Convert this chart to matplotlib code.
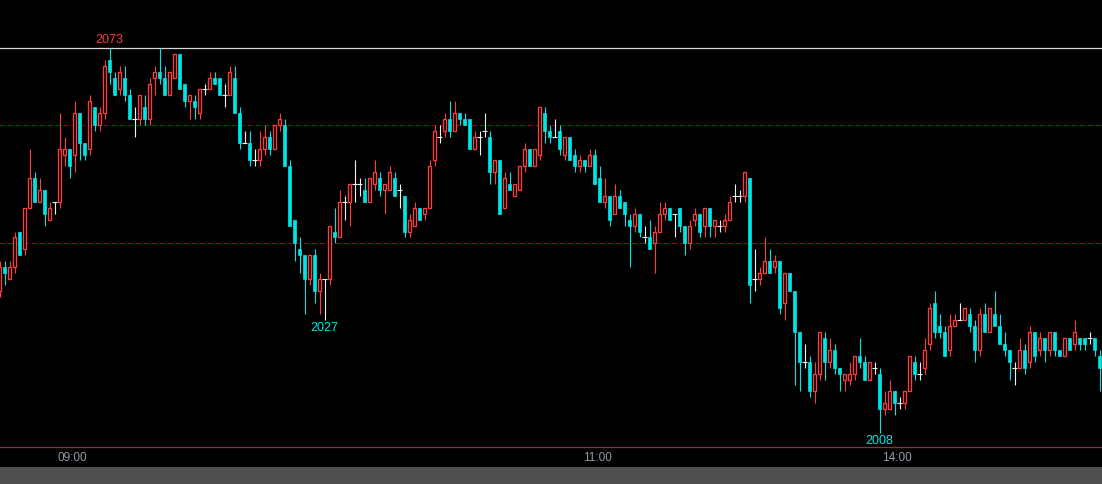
import matplotlib
matplotlib.use("Agg")
import matplotlib.pyplot as plt
from matplotlib.patches import Rectangle

# 1-minute bars
opens = [2032, 2036, 2034, 2036, 2042, 2039, 2046, 2051, 2047, 2049, 2044, 2047, 2047, 2055, 2056, 2055, 2062, 2057, 2056, 2063,
         2060, 2062, 2071, 2068, 2066, 2068, 2065, 2061, 2061, 2063, 2061, 2068, 2069, 2068, 2065, 2068, 2072, 2067, 2064, 2064,
         2062, 2066, 2066, 2068, 2068, 2065, 2065, 2068, 2062, 2057, 2057, 2054, 2054, 2056, 2058, 2056, 2060, 2060, 2053, 2044,
         2039, 2038, 2034, 2038, 2032, 2034, 2034, 2042, 2041, 2047, 2047, 2050, 2050, 2049, 2047, 2050, 2051, 2049, 2049, 2051,
         2049, 2048, 2042, 2043, 2046, 2045, 2046, 2054, 2058, 2059, 2061, 2059, 2062, 2061, 2061, 2056, 2058, 2059, 2058, 2052,
         2054, 2046, 2050, 2048, 2049, 2053, 2056, 2053, 2055, 2062, 2059, 2058, 2059, 2055, 2058, 2055, 2053, 2054, 2053, 2055,
         2051, 2047, 2048, 2045, 2048, 2047, 2044, 2043, 2045, 2041, 2041, 2040, 2042, 2045, 2046, 2045, 2046, 2043, 2040, 2044,
         2045, 2043, 2046, 2043, 2043, 2043, 2044, 2048, 2048, 2048, 2051, 2034, 2034, 2035, 2037, 2036, 2037, 2030, 2035, 2032,
         2025, 2020, 2020, 2015, 2018, 2024, 2020, 2022, 2019, 2017, 2017, 2018, 2021, 2020, 2017, 2019, 2018, 2012, 2012, 2015,
         2013, 2013, 2015, 2020, 2018, 2019, 2023, 2030, 2026, 2025, 2022, 2026, 2027, 2027, 2028, 2026, 2022, 2028, 2025, 2028,
         2026, 2023, 2022, 2019, 2019, 2022, 2020, 2025, 2022, 2024, 2022, 2025, 2022, 2021, 2024, 2023, 2024, 2024, 2024, 2024,
         2021]
highs = [2037, 2037, 2037, 2042, 2042, 2046, 2056, 2052, 2051, 2049, 2047, 2047, 2062, 2058, 2056, 2064, 2062, 2057, 2065, 2063,
         2063, 2071, 2073, 2069, 2070, 2070, 2066, 2063, 2065, 2065, 2068, 2070, 2073, 2070, 2069, 2072, 2072, 2067, 2065, 2065,
         2066, 2067, 2069, 2069, 2068, 2067, 2070, 2070, 2063, 2059, 2059, 2056, 2059, 2060, 2059, 2060, 2062, 2061, 2054, 2044,
         2041, 2038, 2038, 2039, 2035, 2034, 2043, 2046, 2049, 2048, 2050, 2054, 2051, 2051, 2051, 2054, 2052, 2050, 2053, 2052,
         2050, 2048, 2045, 2047, 2046, 2046, 2054, 2060, 2060, 2062, 2064, 2064, 2062, 2062, 2061, 2059, 2059, 2062, 2059, 2054,
         2054, 2052, 2052, 2050, 2053, 2057, 2056, 2056, 2063, 2063, 2060, 2061, 2060, 2058, 2058, 2056, 2055, 2054, 2056, 2056,
         2053, 2051, 2048, 2050, 2049, 2047, 2045, 2046, 2045, 2043, 2044, 2043, 2047, 2047, 2046, 2045, 2046, 2043, 2044, 2046,
         2045, 2046, 2046, 2044, 2044, 2045, 2048, 2050, 2049, 2052, 2051, 2039, 2036, 2041, 2039, 2038, 2037, 2035, 2035, 2032,
         2025, 2023, 2021, 2020, 2025, 2025, 2024, 2023, 2019, 2018, 2020, 2021, 2024, 2021, 2020, 2020, 2019, 2015, 2017, 2015,
         2014, 2015, 2021, 2021, 2020, 2024, 2030, 2032, 2028, 2026, 2028, 2028, 2030, 2029, 2029, 2027, 2029, 2030, 2029, 2032,
         2028, 2025, 2022, 2020, 2024, 2023, 2026, 2025, 2025, 2024, 2025, 2025, 2022, 2024, 2024, 2027, 2024, 2024, 2025, 2024,
         2022]
lows = [2031, 2033, 2034, 2035, 2038, 2038, 2046, 2047, 2047, 2043, 2044, 2045, 2046, 2053, 2051, 2052, 2054, 2054, 2055, 2059,
        2059, 2061, 2067, 2065, 2065, 2064, 2061, 2058, 2060, 2060, 2060, 2065, 2067, 2065, 2065, 2068, 2066, 2063, 2061, 2061,
        2061, 2065, 2066, 2067, 2065, 2063, 2065, 2062, 2056, 2057, 2053, 2053, 2053, 2055, 2055, 2056, 2059, 2053, 2043, 2037,
        2035, 2028, 2033, 2030, 2028, 2027, 2033, 2040, 2041, 2044, 2043, 2047, 2048, 2047, 2047, 2049, 2048, 2045, 2049, 2048,
        2046, 2041, 2041, 2043, 2044, 2044, 2046, 2053, 2057, 2058, 2058, 2059, 2060, 2060, 2056, 2056, 2055, 2058, 2050, 2050,
        2045, 2046, 2049, 2048, 2049, 2052, 2053, 2053, 2054, 2057, 2057, 2058, 2055, 2054, 2054, 2052, 2052, 2052, 2053, 2050,
        2047, 2046, 2043, 2045, 2046, 2043, 2036, 2042, 2041, 2040, 2039, 2035, 2042, 2044, 2044, 2041, 2042, 2038, 2039, 2043,
        2041, 2041, 2041, 2041, 2042, 2042, 2044, 2047, 2047, 2047, 2030, 2032, 2033, 2035, 2035, 2035, 2028, 2027, 2032, 2016,
        2015, 2019, 2014, 2013, 2017, 2017, 2019, 2018, 2015, 2015, 2016, 2017, 2019, 2017, 2017, 2018, 2008, 2011, 2012, 2011,
        2012, 2012, 2015, 2017, 2017, 2018, 2022, 2024, 2024, 2021, 2021, 2026, 2027, 2027, 2025, 2020, 2021, 2025, 2025, 2026,
        2023, 2021, 2017, 2016, 2019, 2018, 2019, 2020, 2021, 2020, 2021, 2021, 2021, 2021, 2022, 2022, 2022, 2022, 2023, 2021,
        2015]
closes = [2036, 2035, 2036, 2041, 2038, 2046, 2051, 2047, 2049, 2045, 2046, 2047, 2056, 2056, 2053, 2062, 2057, 2055, 2064, 2060,
          2062, 2070, 2069, 2065, 2069, 2065, 2061, 2061, 2065, 2061, 2067, 2069, 2068, 2065, 2069, 2072, 2066, 2064, 2065, 2063,
          2066, 2066, 2068, 2067, 2065, 2065, 2069, 2062, 2057, 2057, 2054, 2054, 2056, 2058, 2056, 2060, 2061, 2053, 2043, 2040,
          2038, 2034, 2038, 2032, 2034, 2034, 2043, 2041, 2047, 2047, 2050, 2050, 2050, 2047, 2051, 2052, 2049, 2050, 2052, 2048,
          2049, 2042, 2044, 2046, 2044, 2046, 2053, 2059, 2058, 2061, 2059, 2062, 2061, 2060, 2056, 2058, 2058, 2059, 2052, 2054,
          2045, 2051, 2049, 2050, 2053, 2056, 2053, 2056, 2063, 2059, 2058, 2058, 2056, 2058, 2054, 2053, 2054, 2053, 2055, 2050,
          2047, 2048, 2044, 2048, 2046, 2045, 2043, 2045, 2042, 2041, 2039, 2042, 2045, 2046, 2044, 2045, 2043, 2040, 2043, 2045,
          2042, 2046, 2043, 2044, 2043, 2044, 2047, 2048, 2048, 2052, 2033, 2034, 2035, 2037, 2035, 2037, 2029, 2035, 2032, 2025,
          2020, 2020, 2015, 2018, 2025, 2020, 2022, 2019, 2018, 2018, 2018, 2021, 2020, 2017, 2020, 2019, 2012, 2013, 2015, 2013,
          2013, 2015, 2021, 2018, 2018, 2022, 2029, 2025, 2025, 2021, 2026, 2027, 2027, 2029, 2026, 2022, 2028, 2025, 2029, 2026,
          2023, 2022, 2020, 2019, 2022, 2019, 2025, 2021, 2024, 2022, 2025, 2022, 2021, 2024, 2022, 2025, 2023, 2023, 2024, 2022,
          2019]

grid_levels = [2040, 2060]
time_labels = ["09:00", "11:00", "14:00"]
time_pos = [14.5, 119.5, 179.5]
local_low_idx = 65   # the 2027 low that carries a label

UP = "#ff3c3c"
DOWN = "#00e6e6"
FLAT = "#f0f0f0"

fig = plt.figure(figsize=(11.02, 4.84), dpi=100, facecolor="black")
ax = fig.add_axes([0, 37 / 484, 1, 447 / 484])
ax.set_facecolor("black")

# grey strip along the very bottom
fig.patches.append(Rectangle((0, 0), 1, 17 / 484, transform=fig.transFigure,
                             facecolor="#4f4f4f", edgecolor="none"))

px = 5.92  # pixels per price point
top = max(highs) + 48 / px
ax.set_ylim(top - 447 / px, top)
ax.set_xlim(0.1, 220.5)

w = 0.62
for i in range(len(opens)):
    o, h, l, c = opens[i], highs[i], lows[i], closes[i]
    if c > o:
        col = UP
    elif c < o:
        col = DOWN
    else:
        col = FLAT
    ax.vlines(i, l, h, color=col, lw=0.8, zorder=2)
    if c > o:
        ax.add_patch(Rectangle((i - w / 2, o), w, c - o, facecolor="black",
                               edgecolor=col, lw=0.95, zorder=3))
    elif c < o:
        ax.add_patch(Rectangle((i - w / 2, c), w, o - c, facecolor=col,
                               edgecolor=col, lw=0.5, zorder=3))
    else:
        ax.hlines(o, i - w / 2 - 0.1, i + w / 2 + 0.1, color=col, lw=0.8, zorder=3)

# dashed price levels, kept crisp (no antialiasing) like the original
for lvl in grid_levels:
    ax.axhline(lvl, color="#a00000", lw=0.75, ls=(0, (4, 3)), antialiased=False, zorder=1)

ax.axhline(max(highs), color="#d8d8d8", lw=0.9, zorder=1)

# high / low markers
hi_i = highs.index(max(highs))
lo_i = lows.index(min(lows))
lab_font = dict(family=["Liberation Sans", "DejaVu Sans"], fontsize=9)
ax.annotate(str(highs[hi_i]), (hi_i, highs[hi_i]), xytext=(0, 1.5), textcoords="offset points",
            ha="center", va="bottom", color=UP, **lab_font)
for j in [local_low_idx, lo_i]:
    ax.annotate(str(lows[j]), (j, lows[j]), xytext=(0, -1.5), textcoords="offset points",
                ha="center", va="top", color=DOWN, **lab_font)

for s in ["top", "left", "right"]:
    ax.spines[s].set_visible(False)
ax.spines["bottom"].set_color("#a8281e")
ax.spines["bottom"].set_linewidth(0.9)

ax.set_yticks([])
ax.set_xticks(time_pos)
ax.set_xticklabels(time_labels, color="#9898a8", fontsize=8.5, family=["Liberation Sans", "DejaVu Sans"])
ax.tick_params(axis="x", length=0, pad=3.5)

fig.savefig("out.png", dpi=100, facecolor="black")
